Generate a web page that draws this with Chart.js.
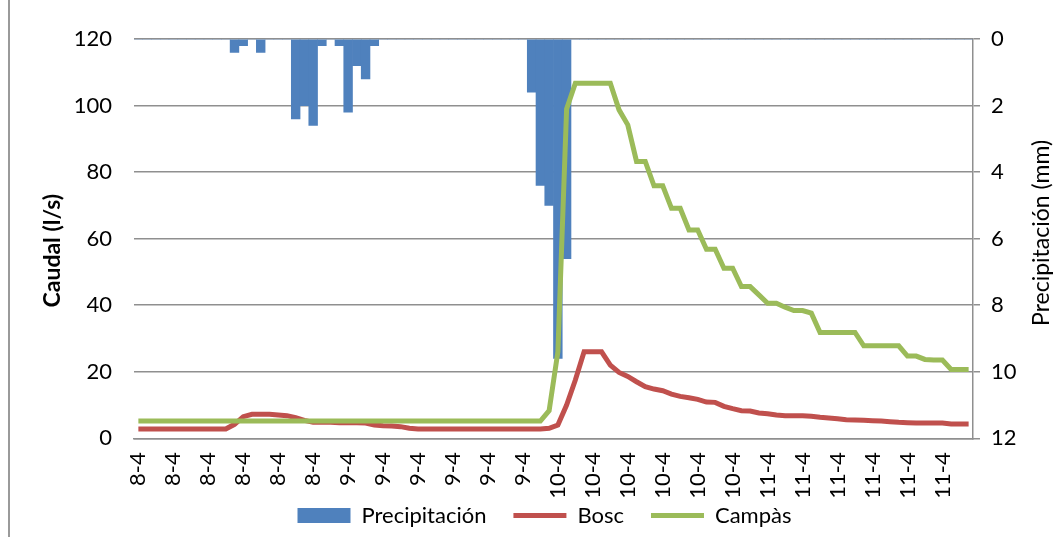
<!DOCTYPE html>
<html lang="es">
<head>
<meta charset="utf-8">
<title>Caudal y precipitación</title>
<script src="https://cdn.jsdelivr.net/npm/chart.js@4/dist/chart.umd.min.js"></script>
<style>
  html, body { margin: 0; padding: 0; background: #ffffff; }
  #marco { position: relative; width: 1053px; height: 537px; }
  #marco::before {
    content: ''; position: absolute; left: 8px; top: 0; bottom: 0;
    width: 2px; background: #9a9a9a;
  }
  #grafico { position: absolute; left: 0; top: 0; }
</style>
</head>
<body>
<div id="marco"><canvas id="grafico" width="1053" height="537"></canvas></div>
<script>
// Días del registro (datos horarios, 24 valores por día)
const dias = ['8-4', '9-4', '10-4', '11-4'];
const horasPorDia = 24;
const categorias = dias.flatMap(d => Array(horasPorDia).fill(d));

// Precipitación horaria (mm)
const precipitacion = [
  0, 0, 0, 0, 0, 0, 0, 0, 0, 0, 0, 0.4, 0.2, 0, 0.4, 0, 0, 0, 2.4, 2.0, 2.6, 0.2, 0, 0.2,
  2.2, 0.8, 1.2, 0.2, 0, 0, 0, 0, 0, 0, 0, 0, 0, 0, 0, 0, 0, 0, 0, 0, 0, 1.6, 4.4, 5.0,
  9.6, 6.6, 0, 0, 0, 0, 0, 0, 0, 0, 0, 0, 0, 0, 0, 0, 0, 0, 0, 0, 0, 0, 0, 0,
  0, 0, 0, 0, 0, 0, 0, 0, 0, 0, 0, 0, 0, 0, 0, 0, 0, 0, 0, 0, 0, 0, 0, 0
];

// Caudal de la cuenca forestal, Bosc (l/s)
const caudalBosc = [
  2.8, 2.8, 2.8, 2.8, 2.8, 2.8, 2.8, 2.8, 2.8, 2.8, 2.8, 4.2, 6.5, 7.2, 7.2, 7.2, 7.0, 6.8, 6.2, 5.4, 4.8, 4.8, 4.8, 4.7,
  4.7, 4.7, 4.6, 4.0, 3.8, 3.7, 3.5, 3.0, 2.8, 2.8, 2.8, 2.8, 2.8, 2.8, 2.8, 2.8, 2.8, 2.8, 2.8, 2.8, 2.8, 2.8, 2.8, 3.0,
  4.0, 10.0, 17.5, 26.0, 26.0, 26.0, 22.0, 19.8, 18.6, 17.0, 15.5, 14.8, 14.3, 13.3, 12.6, 12.2, 11.7, 10.9, 10.8, 9.6, 8.9, 8.3, 8.2, 7.6,
  7.4, 7.0, 6.8, 6.8, 6.8, 6.6, 6.3, 6.1, 5.9, 5.6, 5.5, 5.4, 5.3, 5.2, 5.0, 4.8, 4.7, 4.6, 4.6, 4.6, 4.6, 4.3, 4.3, 4.3
];

// Caudal de la cuenca agrícola, Campàs (l/s)
const caudalCampas = [
  5.2, 5.2, 5.2, 5.2, 5.2, 5.2, 5.2, 5.2, 5.2, 5.2, 5.2, 5.2, 5.2, 5.2, 5.2, 5.2, 5.2, 5.2, 5.2, 5.2, 5.2, 5.2, 5.2, 5.2,
  5.2, 5.2, 5.2, 5.2, 5.2, 5.2, 5.2, 5.2, 5.2, 5.2, 5.2, 5.2, 5.2, 5.2, 5.2, 5.2, 5.2, 5.2, 5.2, 5.2, 5.2, 5.2, 5.2, 8.3,
  26.0, 99.0, 106.7, 106.7, 106.7, 106.7, 106.7, 98.7, 94.2, 83.2, 83.2, 75.9, 75.9, 69.1, 69.1, 62.6, 62.6, 56.8, 56.8, 51.1, 51.1, 45.6, 45.6, 43.1,
  40.6, 40.6, 39.4, 38.4, 38.4, 37.6, 31.8, 31.8, 31.8, 31.8, 31.8, 27.8, 27.8, 27.8, 27.8, 27.8, 24.7, 24.7, 23.7, 23.5, 23.5, 20.7, 20.7, 20.7
];

// Escalas: caudal a la izquierda, precipitación invertida a la derecha
const escalaCaudal = { min: 0, max: 120, paso: 20 };
const escalaPrecip = { min: 0, max: 12, paso: 2 };
const cadaCuantasHoras = 4;

const FUENTE = 'Lato, "Open Sans", "DejaVu Sans", sans-serif';
const GRIS = '#8f8f8f';
const TAM = 22;
const GROSOR_LINEA = 5;

Chart.defaults.font.family = FUENTE;
Chart.defaults.font.size = TAM;
Chart.defaults.color = '#000000';

// Títulos de los ejes verticales, ambos escritos de abajo arriba
const titulosEjes = {
  id: 'titulosEjes',
  afterDraw(chart, args, opts) {
    const ctx = chart.ctx;
    opts.items.forEach(t => {
      const s = chart.scales[t.eje];
      const x = s.position === 'left' ? s.left + t.separacion : s.right - t.separacion;
      const y = (s.top + s.bottom) / 2 + t.desplazamiento;
      ctx.save();
      ctx.font = `${t.peso} ${t.tam}px ${FUENTE}`;
      ctx.fillStyle = '#000000';
      ctx.textAlign = 'center';
      ctx.textBaseline = 'middle';
      ctx.translate(x, y);
      ctx.rotate(-Math.PI / 2);
      ctx.fillText(t.texto, 0, 0);
      ctx.restore();
    });
  }
};

// Las fechas giradas sobresalen de la caja del eje X: se amplía su zona visible
const zonaEtiquetasX = {
  id: 'zonaEtiquetasX',
  afterLayout(chart) {
    chart.scales.x.bottom = chart.height;
  }
};

new Chart(document.getElementById('grafico'), {
  type: 'bar',
  data: {
    labels: categorias,
    datasets: [
      {
        label: 'Precipitación',
        data: precipitacion,
        yAxisID: 'yPrec',
        backgroundColor: '#4F81BD',
        borderWidth: 0,
        barPercentage: 1.0,
        categoryPercentage: 1.0,
        order: 3
      },
      {
        type: 'line',
        label: 'Bosc',
        data: caudalBosc,
        yAxisID: 'yCaudal',
        borderColor: '#C0504D',
        backgroundColor: '#C0504D',
        borderWidth: GROSOR_LINEA,
        pointRadius: 0,
        tension: 0,
        fill: false,
        order: 2
      },
      {
        type: 'line',
        label: 'Campàs',
        data: caudalCampas,
        yAxisID: 'yCaudal',
        borderColor: '#9BBB59',
        backgroundColor: '#9BBB59',
        borderWidth: GROSOR_LINEA,
        pointRadius: 0,
        tension: 0,
        fill: false,
        order: 1
      }
    ]
  },
  options: {
    responsive: false,
    animation: false,
    devicePixelRatio: 1,
    layout: { padding: { left: 36, right: 0, top: 39, bottom: 0.5 } },
    scales: {
      x: {
        type: 'category',
        offset: true,
        grid: { display: false, drawTicks: false },
        border: { display: true, color: GRIS, width: 1.5 },
        ticks: {
          autoSkip: false,
          minRotation: 90,
          maxRotation: 90,
          padding: 14,
          font: { size: TAM },
          callback: function (value, index) {
            return index % cadaCuantasHoras === 0 ? this.getLabelForValue(value) : '';
          }
        },
        afterFit(scale) { scale.height = 39.2; }
      },
      yCaudal: {
        position: 'left',
        min: escalaCaudal.min,
        max: escalaCaudal.max,
        grid: { color: GRIS, lineWidth: 1.5, drawTicks: false },
        border: { display: false },
        ticks: { stepSize: escalaCaudal.paso, padding: 22, font: { size: TAM } },
        afterFit(scale) { scale.width = 98; }
      },
      yPrec: {
        position: 'right',
        reverse: true,
        min: escalaPrecip.min,
        max: escalaPrecip.max,
        grid: { drawOnChartArea: false, color: GRIS, lineWidth: 1.5, drawTicks: true, tickLength: 7 },
        border: { display: true, color: GRIS, width: 1.5 },
        ticks: { stepSize: escalaPrecip.paso, padding: 11, font: { size: TAM } },
        afterFit(scale) { scale.width = 80; }
      }
    },
    plugins: {
      tooltip: { enabled: false },
      legend: {
        position: 'bottom',
        labels: {
          usePointStyle: true,
          pointStyleWidth: 53,
          boxWidth: 53,
          boxHeight: 15,
          padding: 27,
          font: { size: TAM },
          color: '#000000',
          sort: (a, b) => a.datasetIndex - b.datasetIndex,
          generateLabels(chart) {
            const items = Chart.defaults.plugins.legend.labels.generateLabels(chart);
            items.forEach(it => {
              const esBarra = it.datasetIndex === 0;
              it.pointStyle = esBarra ? 'rect' : 'line';
              it.lineWidth = esBarra ? 0 : GROSOR_LINEA;
            });
            return items;
          }
        }
      },
      titulosEjes: {
        items: [
          { eje: 'yCaudal', texto: 'Caudal (l/s)', peso: 'bold', tam: 23, separacion: 17, desplazamiento: 12 },
          { eje: 'yPrec', texto: 'Precipitación (mm)', peso: 'normal', tam: 23, separacion: 11.5, desplazamiento: -5.7 }
        ]
      }
    }
  },
  plugins: [titulosEjes, zonaEtiquetasX]
});
</script>
</body>
</html>
